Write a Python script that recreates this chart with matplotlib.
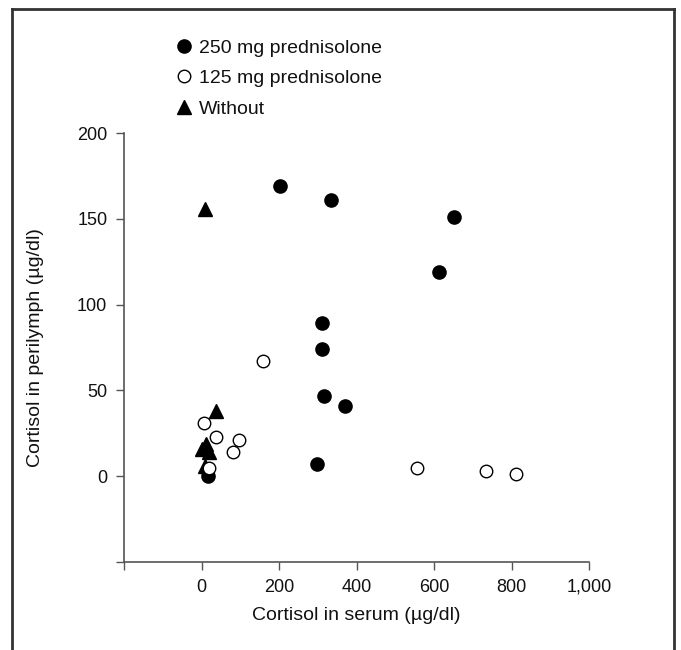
import matplotlib
matplotlib.use("Agg")
import matplotlib.pyplot as plt
from matplotlib.lines import Line2D

plt.rcParams['font.family'] = ['Liberation Sans', 'DejaVu Sans']

# Data (cortisol in serum vs perilymph, µg/dl)
serum_250 = [202, 334, 652, 612, 311, 311, 316, 371, 297, 17]
peri_250 = [169, 161, 151, 119, 89, 74, 47, 41, 7, 0]

serum_125 = [159, 6, 37, 96, 82, 20, 555, 733, 811]
peri_125 = [67, 31, 23, 21, 14, 5, 5, 3, 1]

serum_without = [9, 37, 0, 12, 20, 9]
peri_without = [156, 38, 16, 19, 14, 6]

labels = ["250 mg prednisolone", "125 mg prednisolone", "Without"]
xticks = [-200, 0, 200, 400, 600, 800, 1000]
xticklabels = ["", "0", "200", "400", "600", "800", "1,000"]
yticks = [-50, 0, 50, 100, 150, 200]
yticklabels = ["", "0", "50", "100", "150", "200"]

W, H = 681, 650
fig = plt.figure(figsize=(W / 100, H / 100), dpi=100)
ax = fig.add_axes([124 / W, 1 - 562 / H, (589 - 124) / W, (562 - 133) / H])

h1, = ax.plot(serum_250, peri_250, 'o', color='black', markersize=9.5, linestyle='none', zorder=3)
h3, = ax.plot(serum_without, peri_without, '^', color='black', markersize=10, linestyle='none', zorder=4)
h2, = ax.plot(serum_125, peri_125, 'o', markerfacecolor='white', markeredgecolor='black',
              markeredgewidth=1.0, markersize=9, linestyle='none', zorder=5)

ax.set_xlim(-200, 1000)
ax.set_ylim(-50, 200)
ax.set_xticks(xticks)
ax.set_xticklabels(xticklabels)
ax.set_yticks(yticks)
ax.set_yticklabels(yticklabels)

for s in ['top', 'right']:
    ax.spines[s].set_visible(False)
for s in ['left', 'bottom']:
    ax.spines[s].set_color('#555555')
    ax.spines[s].set_linewidth(1.2)
ax.tick_params(axis='both', direction='out', length=6, width=1.0, color='#555555',
               labelsize=13, labelcolor='#111111', pad=6)

ax.set_xlabel("Cortisol in serum (µg/dl)", fontsize=14, color='#111111', labelpad=8)
ax.set_ylabel("Cortisol in perilymph (µg/dl)", fontsize=14, color='#111111', labelpad=24)

leg = fig.legend([h1, h2, h3], labels, loc='upper left',
                 bbox_to_anchor=(176 / W, 1 - 39 / H), frameon=False,
                 fontsize=14, handlelength=0.8, handletextpad=0.38,
                 labelspacing=0.67, borderaxespad=0, borderpad=0)
for t in leg.get_texts():
    t.set_color('#111111')

# outer frame (left, top, right)
frame_kw = dict(color='#333333', linewidth=2.0, transform=fig.transFigure)
fig.add_artist(Line2D([12 / W, 12 / W], [0, 1 - 9 / H], **frame_kw))
fig.add_artist(Line2D([12 / W, 674 / W], [1 - 9 / H, 1 - 9 / H], **frame_kw))
fig.add_artist(Line2D([674 / W, 674 / W], [0, 1 - 9 / H], **frame_kw))

fig.savefig("out.png", dpi=100)
